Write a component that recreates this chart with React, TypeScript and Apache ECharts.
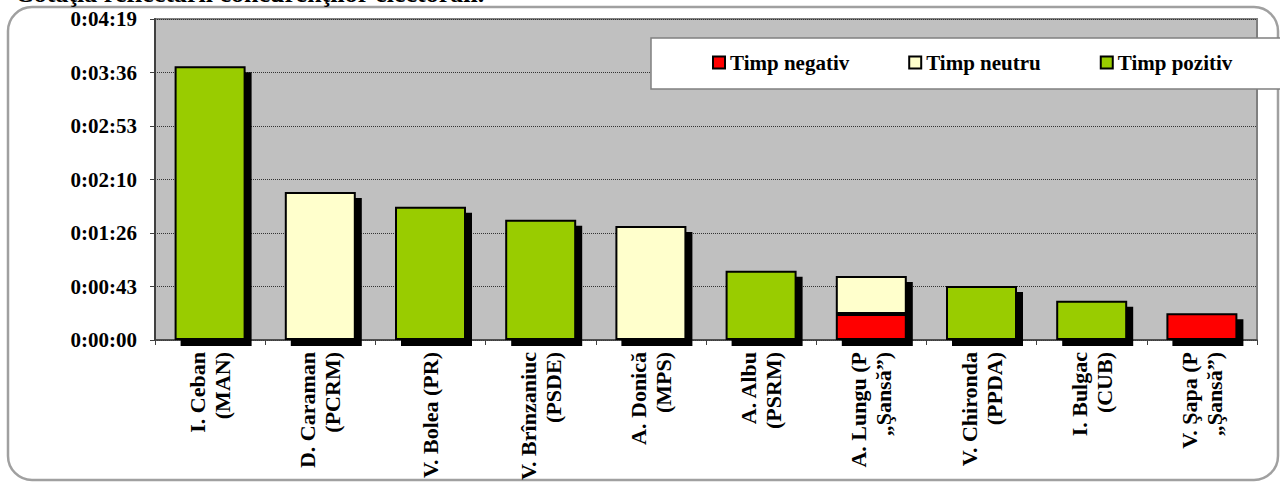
import React, { useEffect, useRef } from "react";
import * as echarts from "echarts";

const categories = [
  "I. Ceban\n(MAN)",
  "D. Caraman\n(PCRM)",
  "V. Bolea (PR)",
  "V. Brînzaniuc\n(PSDE)",
  "A. Donică\n(MPS)",
  "A. Albu\n(PSRM)",
  "A. Lungu (P\n„Şansă”)",
  "V. Chironda\n(PPDA)",
  "I. Bulgac\n(CUB)",
  "V. Şapa (P\n„Şansă”)",
];

// values in seconds
const timpNegativ = [null, null, null, null, null, null, 21, null, null, 21.5];
const timpNeutru = [null, 119.5, null, null, 92, null, 30.7, null, null, null];
const timpPozitiv = [221, null, 107.5, 97, null, 56, null, 43.6, 31.7, null];

const yMax = 259.2;
const yInterval = 43.2;

const seriesNames = ["Timp negativ", "Timp neutru", "Timp pozitiv"];
const seriesColors = ["#FF0000", "#FFFFCC", "#99CC00"];

const title = "Cotaţia reflectării concurenţilor electorali.";

const FONT = '"Liberation Serif", "Times New Roman", serif';

function fmtTime(v: number): string {
  const s = Math.round(v);
  const h = Math.floor(s / 3600);
  const m = Math.floor((s % 3600) / 60);
  const sec = s % 60;
  return `${h}:${String(m).padStart(2, "0")}:${String(sec).padStart(2, "0")}`;
}

export default function App() {
  const ref = useRef<HTMLDivElement>(null);
  useEffect(() => {
    if (!ref.current) return;
    const chart = echarts.init(ref.current, null, { renderer: "svg" });
    const barStyle = (color: string) => ({
      color,
      borderColor: "#000000",
      borderWidth: 2,
      shadowColor: "#000000",
      shadowBlur: 0,
      shadowOffsetX: 6,
      shadowOffsetY: 6,
    });
    const datasets = [timpNegativ, timpNeutru, timpPozitiv];
    chart.setOption({
      animation: false,
      graphic: [
        {
          type: "rect",
          z: -10,
          silent: true,
          shape: { x: 8, y: 7, width: 1270, height: 473, r: 24 },
          style: { fill: "#FFFFFF", stroke: "#A0A0A0", lineWidth: 2.5 },
        },
        {
          type: "text",
          z: 10,
          x: 15,
          y: -7,
          style: {
            text: title,
            font: `bold 26px ${FONT}`,
            fill: "#000000",
            verticalAlign: "middle",
            align: "left",
          },
        },
        {
          type: "rect",
          z: 5,
          silent: true,
          shape: { x: 651, y: 38, width: 631, height: 51 },
          style: { fill: "#FFFFFF", stroke: "#808080", lineWidth: 1.5 },
        },
      ],
      legend: {
        show: true,
        z: 20,
        left: 712,
        top: 52,
        padding: 0,
        itemGap: 59,
        itemWidth: 12,
        itemHeight: 12,
        icon: "rect",
        itemStyle: {
          borderColor: "#000000",
          borderWidth: 2,
          shadowColor: "transparent",
          shadowBlur: 0,
          shadowOffsetX: 0,
          shadowOffsetY: 0,
        },
        textStyle: {
          fontFamily: FONT,
          fontWeight: "bold",
          fontSize: 21,
          color: "#000000",
          padding: [0, 0, 0, 0],
        },
        data: seriesNames,
      },
      grid: {
        left: 155,
        right: 23,
        top: 19,
        bottom: 144,
        show: true,
        backgroundColor: "#C0C0C0",
        borderColor: "#808080",
        borderWidth: 2,
      },
      xAxis: {
        type: "category",
        data: categories,
        axisLine: { show: true, lineStyle: { color: "#404040", width: 1.5 } },
        axisTick: { show: true, length: 5, lineStyle: { color: "#404040" } },
        axisLabel: {
          interval: 0,
          rotate: 90,
          margin: 12,
          fontFamily: FONT,
          fontWeight: "bold",
          fontSize: 22,
          lineHeight: 25,
          color: "#000000",
        },
      },
      yAxis: {
        type: "value",
        min: 0,
        max: yMax,
        interval: yInterval,
        axisLine: { show: true, lineStyle: { color: "#404040", width: 2 } },
        axisTick: { show: true, length: 5, lineStyle: { color: "#404040" } },
        axisLabel: {
          margin: 18,
          fontFamily: FONT,
          fontWeight: "bold",
          fontSize: 21,
          color: "#000000",
          formatter: (v: number) => fmtTime(v),
        },
        splitLine: { show: true, lineStyle: { color: "#333333", type: "dotted", width: 1 } },
      },
      series: seriesNames.map((name, i) => ({
        name,
        type: "bar",
        stack: "total",
        barWidth: 71,
        z: i === 0 ? 4 : 3,
        itemStyle: barStyle(seriesColors[i]),
        emphasis: { disabled: true },
        data: datasets[i],
      })),
    });
    return () => chart.dispose();
  }, []);
  return (
    <div
      ref={ref}
      style={{ position: "absolute", left: 0, top: 0, width: 1280, height: 484 }}
    />
  );
}
